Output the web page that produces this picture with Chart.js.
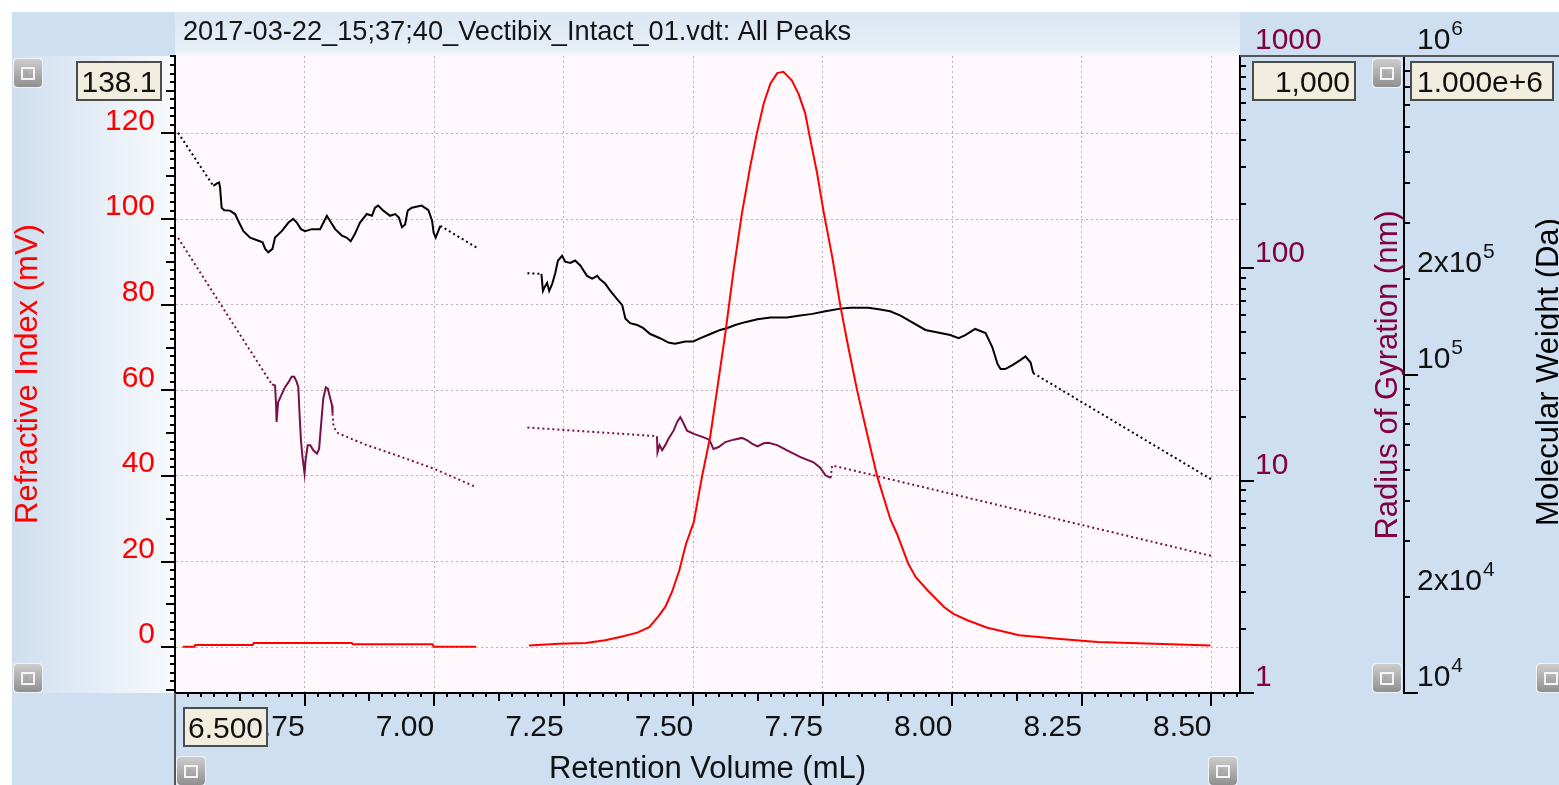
<!DOCTYPE html>
<html>
<head>
<meta charset="utf-8">
<title>Vectibix Intact - All Peaks</title>
<script src="https://cdn.jsdelivr.net/npm/chart.js@4.4.1/dist/chart.umd.min.js"></script>
<style>
  html, body { margin: 0; padding: 0; background: #fff; }
  canvas { display: block; }
</style>
</head>
<body>
<canvas id="chart" width="1559" height="785"></canvas>
<script>
// axis ranges
const volMin = 6.5, volMax = 8.555;
const riMin = -10.7, riMax = 138.1;
const rgMin = 1, rgMax = 1000;
const mwMin = 1e4, mwMax = 1e6;

// tick values and labels
const volTicks = [6.5, 6.75, 7.0, 7.25, 7.5, 7.75, 8.0, 8.25, 8.5];
const volTickLabels = ['', '6.75', '7.00', '7.25', '7.50', '7.75', '8.00', '8.25', '8.50'];
const riTicks = [0, 20, 40, 60, 80, 100, 120];
const rgTicks = [1, 10, 100, 1000];
const rgTickLabels = ['1', '10', '100', '1000'];
const mwTicks = [1e4, 2e4, 1e5, 2e5, 1e6];
const mwTickBase = ['10', '2x10', '10', '2x10', '10'];
const mwTickExp = ['4', '4', '5', '5', '6'];

// refractive index (mV) vs retention volume (mL)
const riVolLeft = [6.515, 6.538, 6.539, 6.650, 6.652, 6.841, 6.843, 6.997, 6.999, 7.081];
const riLeft = [0.1, 0.1, 0.5, 0.5, 1.0, 1.0, 0.7, 0.7, 0.1, 0.1];
const riVolRight = [7.183, 7.241, 7.293, 7.330, 7.359, 7.392, 7.415, 7.432, 7.446, 7.459, 7.473, 7.486, 7.501, 7.517, 7.533, 7.546, 7.562, 7.578, 7.594, 7.610, 7.623, 7.636, 7.649, 7.662, 7.674, 7.690, 7.703, 7.716, 7.726, 7.739, 7.752, 7.768, 7.784, 7.800, 7.816, 7.835, 7.855, 7.880, 7.893, 7.915, 7.929, 7.952, 7.984, 8.002, 8.029, 8.066, 8.129, 8.203, 8.280, 8.421, 8.498];
const riRight = [0.4, 0.8, 1.0, 1.6, 2.4, 3.4, 4.7, 7.1, 9.4, 12.9, 17.9, 24.1, 29.2, 39.9, 49.4, 60.1, 73.4, 88.2, 101.4, 112.3, 120.2, 127.0, 131.7, 134.1, 134.4, 132.4, 129.3, 124.7, 118.5, 110.7, 101.4, 91.3, 79.6, 69.6, 60.1, 50.1, 39.9, 30.0, 26.5, 19.5, 16.4, 13.3, 9.4, 7.8, 6.3, 4.6, 2.8, 2.0, 1.2, 0.7, 0.4];

// molar mass (Da), measured slices
const mwVolLeft = [6.574, 6.581, 6.585, 6.587, 6.590, 6.595, 6.606, 6.616, 6.622, 6.632, 6.645, 6.661, 6.669, 6.674, 6.680, 6.688, 6.693, 6.706, 6.719, 6.728, 6.735, 6.743, 6.751, 6.764, 6.780, 6.793, 6.799, 6.809, 6.822, 6.831, 6.839, 6.847, 6.857, 6.870, 6.880, 6.886, 6.892, 6.902, 6.915, 6.925, 6.932, 6.938, 6.944, 6.949, 6.957, 6.976, 6.989, 6.996, 6.999, 7.003, 7.008, 7.012];
const mwLeft = [391000, 398000, 401000, 386000, 334000, 328000, 327000, 319000, 304000, 282000, 269000, 263000, 260000, 248000, 242000, 248000, 269000, 282000, 300000, 308000, 300000, 286000, 282000, 286000, 286000, 315000, 304000, 286000, 273000, 269000, 262000, 276000, 300000, 319000, 315000, 334000, 339000, 327000, 315000, 319000, 311000, 290000, 296000, 327000, 334000, 339000, 328000, 304000, 279000, 269000, 282000, 293000];
const mwVolRight = [7.207, 7.210, 7.214, 7.218, 7.222, 7.228, 7.234, 7.239, 7.247, 7.253, 7.263, 7.272, 7.282, 7.295, 7.305, 7.315, 7.320, 7.330, 7.340, 7.355, 7.363, 7.369, 7.378, 7.392, 7.403, 7.417, 7.436, 7.452, 7.465, 7.485, 7.500, 7.514, 7.533, 7.552, 7.566, 7.581, 7.600, 7.624, 7.649, 7.681, 7.703, 7.730, 7.755, 7.784, 7.803, 7.838, 7.861, 7.880, 7.900, 7.948, 7.996, 8.012, 8.025, 8.044, 8.064, 8.077, 8.087, 8.093, 8.102, 8.116, 8.131, 8.141, 8.151, 8.156];
const mwRight = [207000, 183000, 189000, 194000, 183000, 193000, 209000, 228000, 236000, 226000, 224000, 228000, 220000, 204000, 200000, 204000, 199000, 193000, 183000, 171000, 165000, 150000, 145000, 143000, 140000, 134000, 130000, 126000, 125000, 127000, 127000, 130000, 134000, 138000, 140000, 143000, 146000, 149000, 151000, 151000, 153000, 155000, 158000, 161000, 162000, 162000, 160000, 158000, 153000, 138000, 133000, 130000, 133000, 139000, 135000, 122000, 108000, 104000, 104000, 107000, 111000, 114000, 109000, 101000];
// molar mass, fitted (dotted) parts
const mwFitVolA = [6.506, 6.574], mwFitA = [574000, 391000];
const mwFitVolB = [7.012, 7.086], mwFitB = [293000, 248000];
const mwFitVolC = [7.180, 7.207], mwFitC = [208000, 207000];
const mwFitVolD = [8.156, 8.502], mwFitD = [101000, 46600];

// radius of gyration (nm), measured slices
const rgVolLeft = [6.687, 6.693, 6.695, 6.696, 6.699, 6.705, 6.712, 6.719, 6.725, 6.730, 6.735, 6.738, 6.740, 6.743, 6.746, 6.750, 6.752, 6.756, 6.761, 6.767, 6.774, 6.778, 6.782, 6.786, 6.791, 6.795, 6.799, 6.803, 6.804];
const rgLeft = [28.4, 28.1, 23.0, 18.9, 23.4, 25.2, 27.5, 29.1, 30.9, 30.9, 29.1, 27.5, 21.4, 15.5, 12.9, 10.8, 12.5, 14.7, 14.7, 13.9, 13.4, 14.1, 18.5, 24.3, 27.5, 27.1, 24.7, 22.6, 20.7];
const rgVolRight = [7.430, 7.431, 7.435, 7.440, 7.446, 7.452, 7.462, 7.469, 7.475, 7.480, 7.488, 7.501, 7.520, 7.531, 7.539, 7.549, 7.562, 7.578, 7.594, 7.604, 7.614, 7.624, 7.636, 7.645, 7.662, 7.681, 7.707, 7.732, 7.745, 7.755, 7.765];
const rgRight = [16.2, 13.6, 14.7, 13.9, 14.7, 15.7, 17.2, 18.9, 19.9, 18.9, 17.2, 16.6, 16.0, 15.6, 14.1, 14.4, 15.2, 15.6, 15.9, 15.5, 14.9, 14.5, 15.0, 15.1, 14.7, 13.9, 12.9, 12.2, 11.5, 10.6, 10.3];
// radius of gyration, fitted (dotted) parts
const rgFitVolA = [6.506, 6.687], rgFitA = [139, 28.4];
const rgFitVolB = [6.804, 6.806, 6.815, 6.870, 6.934, 6.999, 7.082], rgFitB = [20.7, 17.9, 16.7, 14.7, 13.0, 11.4, 9.3];
const rgFitVolC = [7.180, 7.430], rgFitC = [17.8, 16.2];
const rgFitVolD = [7.765, 7.768, 8.502], rgFitD = [10.3, 11.8, 4.41];

const FONT = "'Liberation Sans', Arial, sans-serif";
const PANEL = '#cddff0';
const RED = '#ff0000';
const MAROON = '#7a1048';

const pts = (xs, ys) => xs.map((x, i) => ({ x: x, y: ys[i] }));

function trace(xs, ys, color, axis, dotted) {
    return {
        data: pts(xs, ys),
        yAxisID: axis,
        borderColor: color,
        borderWidth: 2,
        borderDash: dotted ? [2, 3] : [],
        pointRadius: 0,
        fill: false,
        tension: 0
    };
}

function button(ctx, x, y) {
    const s = 28;
    const g = ctx.createLinearGradient(0, y, 0, y + s);
    g.addColorStop(0, '#cdcdcd');
    g.addColorStop(1, '#8f8f8f');
    ctx.fillStyle = '#eef3f8';
    ctx.beginPath(); ctx.roundRect(x - 1, y - 1, s + 2, s + 2, 4); ctx.fill();
    ctx.fillStyle = g;
    ctx.beginPath(); ctx.roundRect(x, y, s, s, 4); ctx.fill();
    ctx.strokeStyle = '#f4f4f4';
    ctx.lineWidth = 2;
    ctx.strokeRect(x + 8, y + 9, 12, 11);
    ctx.fillStyle = '#a8a8a8';
    ctx.fillRect(x + 11, y + 12, 3, 5);
}

function valueBox(ctx, x, y, w, h, text, align) {
    ctx.fillStyle = '#f1eedf';
    ctx.fillRect(x, y, w, h);
    ctx.strokeStyle = '#4d4d4d';
    ctx.lineWidth = 2;
    ctx.strokeRect(x, y, w, h);
    ctx.fillStyle = '#111';
    ctx.font = '30px ' + FONT;
    ctx.textBaseline = 'alphabetic';
    ctx.textAlign = align;
    const tx = align === 'right' ? x + w - 5 : (align === 'left' ? x + 6 : x + w / 2);
    ctx.fillText(text, tx, y + h - 8);
}

function verticalTitle(ctx, text, baseX, centerY, color) {
    ctx.save();
    ctx.translate(baseX, centerY);
    ctx.rotate(-Math.PI / 2);
    ctx.fillStyle = color;
    ctx.font = '31px ' + FONT;
    ctx.textAlign = 'center';
    ctx.textBaseline = 'alphabetic';
    ctx.fillText(text, 0, 0);
    ctx.restore();
}

// panels, boxes, buttons, titles and the minor tick marks
const frame = {
    id: 'frame',
    beforeDraw(chart) {
        const { ctx, chartArea: a, width, height } = chart;
        ctx.save();
        ctx.fillStyle = '#fff';
        ctx.fillRect(0, 0, width, height);
        ctx.fillStyle = PANEL;
        ctx.fillRect(12, 12, width - 12, height - 12);

        const lg = ctx.createLinearGradient(12, 0, a.left, 0);
        lg.addColorStop(0, '#cfdfef');
        lg.addColorStop(1, '#f8fafc');
        ctx.fillStyle = lg;
        ctx.fillRect(12, a.top, a.left - 12, a.bottom - a.top);

        const tg = ctx.createLinearGradient(0, 12, 0, a.top);
        tg.addColorStop(0, '#dae6f2');
        tg.addColorStop(0.88, '#e8eff7');
        tg.addColorStop(1, '#f7fafd');
        ctx.fillStyle = tg;
        ctx.fillRect(a.left, 12, a.right - a.left, a.top - 12);

        ctx.fillStyle = '#fff8fd';
        ctx.fillRect(a.left, a.top, a.right - a.left, a.bottom - a.top);

        ctx.fillStyle = '#141414';
        ctx.font = '27.2px ' + FONT;
        ctx.textAlign = 'left';
        ctx.textBaseline = 'alphabetic';
        ctx.fillText('2017-03-22_15;37;40_Vectibix_Intact_01.vdt: All Peaks', a.left + 8, 40);
        ctx.restore();
    },
    afterDraw(chart) {
        const { ctx, chartArea: a, scales: s, width } = chart;
        ctx.save();

        // tick marks
        ctx.strokeStyle = '#000';
        ctx.lineWidth = 2;
        ctx.beginPath();
        for (let k = 0; ; k++) {
            const v = volMin + k * 0.025;
            if (v > volMax + 1e-9) break;
            const px = Math.round(s.x.getPixelForValue(v));
            const len = k % 10 === 0 ? 13 : (k % 5 === 0 ? 8 : 4);
            ctx.moveTo(px, a.bottom);
            ctx.lineTo(px, a.bottom + len);
        }
        for (let v = -10; v <= riMax; v += 2) {
            const py = Math.round(s.yRI.getPixelForValue(v));
            const len = v % 20 === 0 ? 14 : (v % 10 === 0 ? 9 : 5);
            ctx.moveTo(a.left, py);
            ctx.lineTo(a.left - len, py);
        }
        const logTicks = (scale, lo, hi) => {
            for (let d = lo; d <= hi; d *= 10) {
                for (let m = 1; m < 10; m++) {
                    const v = m * d;
                    if (v > hi) break;
                    const py = Math.round(scale.getPixelForValue(v));
                    ctx.moveTo(scale.left, py);
                    ctx.lineTo(scale.left + (m === 1 ? 14 : 6), py);
                }
            }
        };
        logTicks(s.yRg, rgMin, rgMax);
        logTicks(s.yMW, mwMin, mwMax);
        ctx.stroke();

        // molecular weight labels with raised exponents
        ctx.fillStyle = '#111';
        ctx.textAlign = 'left';
        ctx.textBaseline = 'alphabetic';
        mwTicks.forEach((v, i) => {
            const py = s.yMW.getPixelForValue(v) - 7;
            const x0 = s.yMW.left + 13;
            ctx.font = '30px ' + FONT;
            ctx.fillText(mwTickBase[i], x0, py);
            const w = ctx.measureText(mwTickBase[i]).width;
            ctx.font = '21px ' + FONT;
            ctx.fillText(mwTickExp[i], x0 + w + 1, py - 14);
        });

        // panel edges
        ctx.strokeStyle = '#555';
        ctx.beginPath();
        ctx.moveTo(a.left, a.bottom);
        ctx.lineTo(a.left, chart.height);
        ctx.moveTo(a.right, a.top);
        ctx.lineTo(width, a.top);
        ctx.stroke();

        // axis titles
        verticalTitle(ctx, 'Refractive Index (mV)', 37, 374, RED);
        verticalTitle(ctx, 'Radius of Gyration (nm)', 1397, 375, '#800040');
        verticalTitle(ctx, 'Molecular Weight (Da)', 1558, 372, '#000');
        ctx.fillStyle = '#111';
        ctx.font = '31px ' + FONT;
        ctx.textAlign = 'center';
        ctx.textBaseline = 'alphabetic';
        ctx.fillText('Retention Volume (mL)', (a.left + a.right) / 2, 778);

        // range boxes
        valueBox(ctx, 77, 62, 84, 38, '138.1', 'center');
        valueBox(ctx, 1253, 62, 102, 38, '1,000', 'right');
        valueBox(ctx, 1411, 62, 142, 38, '1.000e+6', 'left');
        valueBox(ctx, 184, 708, 83, 38, '6.500', 'center');

        // panel buttons
        button(ctx, 14, 59);
        button(ctx, 14, 664);
        button(ctx, 177, 757);
        button(ctx, 1209, 757);
        button(ctx, 1373, 59);
        button(ctx, 1373, 664);
        button(ctx, 1537, 664);
        ctx.restore();
    }
};

const gridStyle = { color: '#b3b3b3', lineWidth: 1, drawTicks: false };
const tickFont = { family: FONT, size: 30 };

const ctx = document.getElementById('chart').getContext('2d');
new Chart(ctx, {
    type: 'line',
    data: {
        datasets: [
            trace(riVolLeft, riLeft, RED, 'yRI', false),
            trace(riVolRight, riRight, RED, 'yRI', false),
            trace(mwFitVolA, mwFitA, '#000', 'yMW', true),
            trace(mwVolLeft, mwLeft, '#000', 'yMW', false),
            trace(mwFitVolB, mwFitB, '#000', 'yMW', true),
            trace(mwFitVolC, mwFitC, '#000', 'yMW', true),
            trace(mwVolRight, mwRight, '#000', 'yMW', false),
            trace(mwFitVolD, mwFitD, '#000', 'yMW', true),
            trace(rgFitVolA, rgFitA, MAROON, 'yRg', true),
            trace(rgVolLeft, rgLeft, MAROON, 'yRg', false),
            trace(rgFitVolB, rgFitB, MAROON, 'yRg', true),
            trace(rgFitVolC, rgFitC, MAROON, 'yRg', true),
            trace(rgVolRight, rgRight, MAROON, 'yRg', false),
            trace(rgFitVolD, rgFitD, MAROON, 'yRg', true)
        ]
    },
    options: {
        responsive: false,
        animation: false,
        layout: { padding: { left: 12, top: 55, right: 0, bottom: 0 } },
        plugins: { legend: { display: false }, tooltip: { enabled: false } },
        scales: {
            x: {
                type: 'linear',
                position: 'bottom',
                min: volMin,
                max: volMax,
                afterFit: scale => { scale.height = 92; },
                afterBuildTicks: scale => { scale.ticks = volTicks.map(v => ({ value: v })); },
                grid: gridStyle,
                border: { display: true, color: '#000', width: 2, dash: [2, 3] },
                ticks: {
                    autoSkip: false, maxRotation: 0, align: 'end', padding: 17,
                    font: tickFont, color: '#111',
                    callback: (value, index) => volTickLabels[index]
                }
            },
            yRI: {
                type: 'linear',
                position: 'left',
                min: riMin,
                max: riMax,
                afterFit: scale => { scale.width = 163; },
                afterBuildTicks: scale => { scale.ticks = riTicks.map(v => ({ value: v })); },
                grid: gridStyle,
                border: { display: true, color: '#000', width: 2, dash: [2, 3] },
                ticks: {
                    autoSkip: false, align: 'end', padding: 20, labelOffset: 3,
                    font: tickFont, color: RED,
                    callback: value => String(value)
                }
            },
            yRg: {
                type: 'logarithmic',
                position: 'right',
                weight: 0,
                min: rgMin,
                max: rgMax,
                afterFit: scale => { scale.width = 164; },
                afterBuildTicks: scale => { scale.ticks = rgTicks.map(v => ({ value: v })); },
                grid: { display: false, drawTicks: false },
                border: { display: true, color: '#000', width: 2 },
                ticks: {
                    autoSkip: false, align: 'end', padding: 15, labelOffset: 0,
                    font: tickFont, color: '#800040',
                    callback: (value, index) => rgTickLabels[index]
                }
            },
            yMW: {
                type: 'logarithmic',
                position: 'right',
                weight: 1,
                min: mwMin,
                max: mwMax,
                afterFit: scale => { scale.width = 155; },
                afterBuildTicks: scale => { scale.ticks = mwTicks.map(v => ({ value: v })); },
                grid: { display: false, drawTicks: false },
                border: { display: true, color: '#000', width: 2 },
                ticks: { display: false }
            }
        }
    },
    plugins: [frame]
});
</script>
</body>
</html>
